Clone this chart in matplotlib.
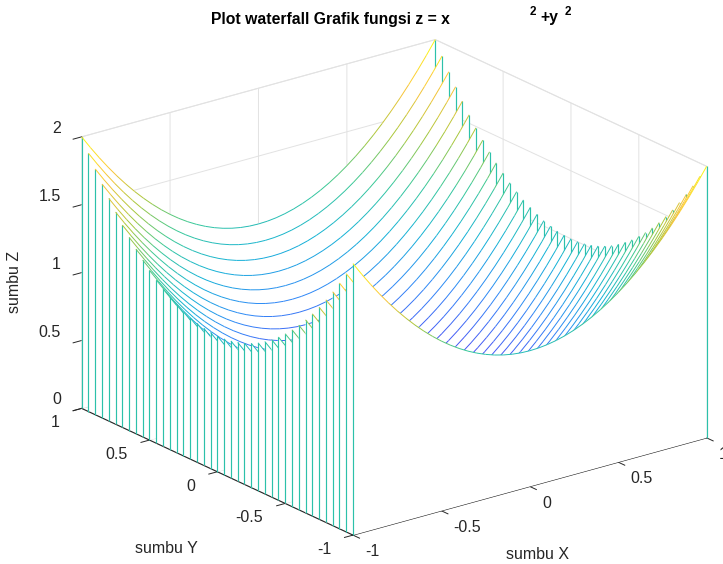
import numpy as np
import matplotlib
matplotlib.use("Agg")
import matplotlib.pyplot as plt
from matplotlib.colors import LinearSegmentedColormap
from mpl_toolkits.mplot3d.art3d import Line3DCollection, Poly3DCollection

# Data
x_values = [-1.0, -0.95, -0.9, -0.85, -0.8, -0.75, -0.7, -0.65, -0.6, -0.55, -0.5, -0.45, -0.4, -0.35,
            -0.3, -0.25, -0.2, -0.15, -0.1, -0.05, 0.0, 0.05, 0.1, 0.15, 0.2, 0.25, 0.3, 0.35, 0.4,
            0.45, 0.5, 0.55, 0.6, 0.65, 0.7, 0.75, 0.8, 0.85, 0.9, 0.95, 1.0]
y_values = list(x_values)
x_term = [1.0, 0.9025, 0.81, 0.7225, 0.64, 0.5625, 0.49, 0.4225, 0.36, 0.3025, 0.25, 0.2025, 0.16, 0.1225,
          0.09, 0.0625, 0.04, 0.0225, 0.01, 0.0025, 0.0, 0.0025, 0.01, 0.0225, 0.04, 0.0625, 0.09, 0.1225,
          0.16, 0.2025, 0.25, 0.3025, 0.36, 0.4225, 0.49, 0.5625, 0.64, 0.7225, 0.81, 0.9025, 1.0]
y_term = list(x_term)
xy_ticks = [-1, -0.5, 0, 0.5, 1]
xy_ticklabels = ["-1", "-0.5", "0", "0.5", "1"]
z_ticks = [0, 0.5, 1, 1.5, 2]
z_ticklabels = ["0", "0.5", "1", "1.5", "2"]

parula = LinearSegmentedColormap.from_list("parula", [
    (0.2422, 0.1504, 0.6603), (0.2810, 0.3228, 0.9579), (0.1786, 0.5289, 0.9682),
    (0.0689, 0.6948, 0.8394), (0.2161, 0.7843, 0.5923), (0.6720, 0.7793, 0.2227),
    (0.9970, 0.7659, 0.2199), (0.9769, 0.9839, 0.0805)])

FONT = "Liberation Sans"
plt.rcParams["font.family"] = FONT
TXT = "#262626"

fig = plt.figure(figsize=(7.23, 5.64), dpi=100)
ax = fig.add_axes([0.0346, -0.023, 1.0, 1.0], projection="3d", computed_zorder=False, proj_type="ortho")
ax.view_init(elev=21, azim=-127.5)
ax.set_box_aspect((2, 2, 1.305), zoom=1.195)
ax.set_xlim(-1, 1, view_margin=0)
ax.set_ylim(-1, 1, view_margin=0)
ax.set_zlim(0, 2, view_margin=0)
ax.patch.set_alpha(0)

stem_color = parula(0.53)
order = 0
x_arr = np.array(x_values)
for j in range(len(y_values) - 1, -1, -1):
    yv = y_values[j]
    zs = np.array(x_term) + y_term[j]
    poly = [(x_arr[0], yv, 0)] + [(a, yv, b) for a, b in zip(x_arr, zs)] + [(x_arr[-1], yv, 0)]
    face = Poly3DCollection([poly], facecolors="white", edgecolors="none", zorder=order)
    ax.add_collection3d(face, autolim=False)
    segs = [[(x_arr[i], yv, zs[i]), (x_arr[i + 1], yv, zs[i + 1])] for i in range(len(x_arr) - 1)]
    cols = [parula((zs[i] + zs[i + 1]) / 4) for i in range(len(x_arr) - 1)]
    curve = Line3DCollection(segs, colors=cols, linewidths=0.7, zorder=order + 0.4)
    ax.add_collection3d(curve, autolim=False)
    stems = [[(x_arr[0], yv, 0), (x_arr[0], yv, zs[0])], [(x_arr[-1], yv, 0), (x_arr[-1], yv, zs[-1])]]
    stem = Line3DCollection(stems, colors=[stem_color], linewidths=0.85, zorder=order + 0.3)
    ax.add_collection3d(stem, autolim=False)
    for art in (face, curve, stem):
        art.set_clip_on(False)
    order += 1

for axis in (ax.xaxis, ax.yaxis, ax.zaxis):
    axis.set_pane_color((1, 1, 1, 1))
    axis.pane.set_edgecolor("#e2e2e2")
    axis.pane.set_linewidth(0.7)
    axis.pane.set_clip_on(False)
    axis.line.set_color(TXT)
    axis.line.set_linewidth(0.8)
    axis._axinfo["grid"].update(color="#e2e2e2", linewidth=0.7)
    axis._axinfo["tick"].update(inward_factor=0.3, outward_factor=0.0, linewidth={True: 0.7, False: 0.5})
    axis._axinfo["tick"]["color"] = TXT

ax.set_xticks(xy_ticks, xy_ticklabels, fontsize=11.5, color=TXT)
ax.set_yticks(xy_ticks, xy_ticklabels, fontsize=11.5, color=TXT)
ax.set_zticks(z_ticks, z_ticklabels, fontsize=11.5, color=TXT)
ax.tick_params(axis="x", pad=3.5, colors=TXT)
ax.tick_params(axis="y", pad=4.5, colors=TXT)
ax.tick_params(axis="z", pad=-1, colors=TXT)
for lab in ax.xaxis.get_ticklabels():
    lab.set_ha("left"); lab.set_va("bottom")
for lab in ax.yaxis.get_ticklabels():
    lab.set_ha("right"); lab.set_va("bottom")
for lab in ax.zaxis.get_ticklabels():
    lab.set_ha("right"); lab.set_va("bottom")

ax.set_xlabel("sumbu X", fontsize=11.5, color=TXT, labelpad=11.5)
ax.set_ylabel("sumbu Y", fontsize=11.5, color=TXT, labelpad=25.7)
ax.set_zlabel("sumbu Z", fontsize=11.5, color=TXT, labelpad=2, rotation=90)
for axis in (ax.xaxis, ax.yaxis, ax.zaxis):
    axis.set_rotate_label(False)
ax.xaxis._axinfo["label"].update(ha="right", va="top")
ax.yaxis._axinfo["label"].update(ha="left", va="bottom")


def nudge(text, dx_px, dy_px):
    """Shift a label by a fixed number of pixels when mplot3d places it."""
    place = text.set_position

    def shifted(xy):
        px = ax.transData.transform(xy)
        place(ax.transData.inverted().transform((px[0] + dx_px, px[1] + dy_px)))

    text.set_position = shifted


nudge(ax.zaxis.label, 1, -13)
nudge(ax.xaxis.label, -3, 1)
nudge(ax.yaxis.label, -4, -3)
for lab in ax.xaxis.get_ticklabels():
    nudge(lab, -2.5, -2.5)
for lab in ax.yaxis.get_ticklabels():
    nudge(lab, -1, 0)

W, H = 723, 564
fig.text(211 / W, 1 - 24 / H, "Plot waterfall Grafik fungsi z = x", fontsize=11.3, fontweight="bold", color="black", va="baseline")
fig.text(530 / W, 1 - 15 / H, "2", fontsize=8.5, fontweight="bold", color="black", va="baseline")
fig.text(540 / W, 1 - 22 / H, "+y", fontsize=11.3, fontweight="bold", color="black", va="baseline")
fig.text(565 / W, 1 - 15 / H, "2", fontsize=8.5, fontweight="bold", color="black", va="baseline")

fig.savefig("out.png", dpi=100)
